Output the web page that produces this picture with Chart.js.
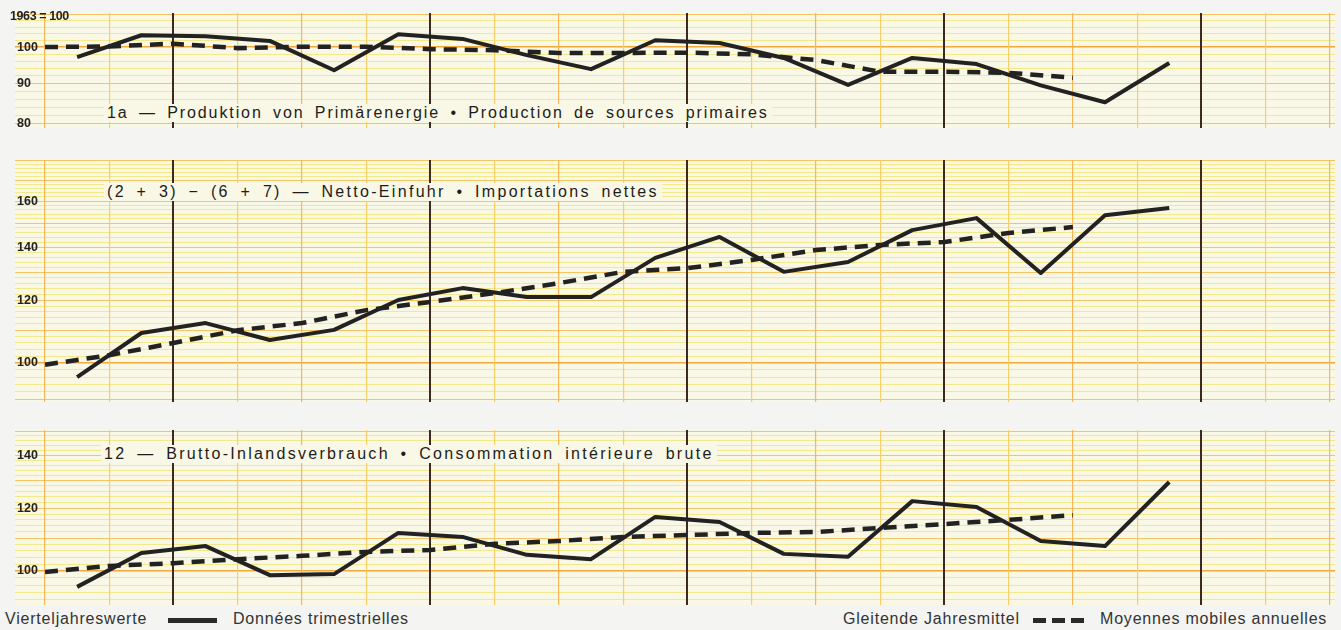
<!DOCTYPE html>
<html>
<head>
<meta charset="utf-8">
<script src="https://cdn.jsdelivr.net/npm/chart.js@4.4.0/dist/chart.umd.min.js"></script>
<style>
  body { margin: 0; width: 1341px; height: 630px; overflow: hidden; position: relative;
         background: #f4f4f2; font-family: "Liberation Sans", Arial, sans-serif; }
  .panel { position: absolute; left: 0; }
  .title { position: absolute; font-size: 16px; letter-spacing: 1.9px; word-spacing: 4px; color: #1c1c1c;
           background: #f9f7e6; white-space: nowrap; line-height: 18px; padding: 0 3px; }
  .base { position: absolute; left: 10px; top: 9px; font: bold 12.5px "Liberation Sans", Arial; letter-spacing: -0.4px;
          word-spacing: 0px; color: #222; }
  .leg { position: absolute; top: 610px; font-size: 16px; color: #333; white-space: nowrap; letter-spacing: 0.8px; }
  .solid { position: absolute; top: 618px; height: 5px; background: #2a2a2a; }
  .dash { position: absolute; top: 618px; height: 5px;
          background: repeating-linear-gradient(90deg, #2a2a2a 0 13px, transparent 13px 19px); }
</style>
</head>
<body>
<div class="panel" style="top:13px"><canvas id="c1" width="1341" height="115"></canvas></div>
<div class="panel" style="top:160px"><canvas id="c2" width="1341" height="242"></canvas></div>
<div class="panel" style="top:430px"><canvas id="c3" width="1341" height="175"></canvas></div>

<div class="base">1963 = 100</div>
<div class="title" style="left:104px;top:104px">1a — Produktion von Primärenergie • Production de sources primaires</div>
<div class="title" style="left:104px;top:183px;letter-spacing:2.3px">(2 + 3) − (6 + 7) — Netto-Einfuhr • Importations nettes</div>
<div class="title" style="left:101px;top:445px;letter-spacing:2.3px">12 — Brutto-Inlandsverbrauch • Consommation intérieure brute</div>

<div class="leg" style="left:5px">Vierteljahreswerte</div>
<div class="solid" style="left:168px;width:49px"></div>
<div class="leg" style="left:233px">Données trimestrielles</div>
<div class="leg" style="left:843px">Gleitende Jahresmittel</div>
<div class="dash" style="left:1033px;width:51px"></div>
<div class="leg" style="left:1100px">Moyennes mobiles annuelles</div>

<script>
// quarterly values (solid) and annual moving average (dashed), 1963 = 100
const p1Solid  = [97.1, 103.5, 103.2, 101.8, 93.5, 103.8, 102.4, 97.7, 93.8, 102.0, 101.2, 96.9, 89.6, 96.9, 95.2, 89.5, 85.2, 95.5];
const p1Dashed = [100, 100.2, 101, 99.7, 100.1, 100.1, 99.4, 99.1, 98.3, 98.3, 98.4, 97.9, 96.3, 93.1, 93.1, 92.8, 91.5];
const p2Solid  = [96.0, 109.1, 112.3, 106.9, 110.1, 120.1, 124.3, 121.1, 121.1, 135.7, 144.2, 130.3, 134.1, 147.1, 152.3, 129.9, 153.6, 156.8];
const p2Dashed = [99.5, 102.3, 106, 110, 112.3, 116.6, 119.4, 122.5, 126.1, 130.3, 131.7, 134.9, 138.8, 140.9, 142.1, 145.9, 148.4];
const p3Solid  = [95.5, 105.4, 107.5, 98.8, 99.1, 111.7, 110.4, 104.8, 103.5, 117.0, 115.3, 105.1, 104.2, 122.5, 120.4, 109.1, 107.5, 129.5];
const p3Dashed = [99.7, 101.5, 102.3, 103.5, 104.5, 105.7, 106.3, 108.2, 109.1, 110.4, 111.0, 111.7, 112.0, 113.3, 114.6, 116.0, 117.6];

const p1Labels = [80, 90, 100];
const p2Labels = [100, 120, 140, 160];
const p3Labels = [100, 120, 140];

const areaFill = {
  id: 'areaFill',
  beforeDraw(chart) {
    const a = chart.chartArea, ctx = chart.ctx;
    ctx.save();
    ctx.fillStyle = '#f9f7e6';
    ctx.fillRect(a.left, a.top, a.right - a.left, a.bottom - a.top);
    ctx.restore();
  }
};

function makePanel(id, solid, dashed, labels, yMin, yMax) {
  const grid = [];
  for (let v = Math.ceil(yMin / 2) * 2; v <= yMax; v += 2) grid.push(v);
  new Chart(document.getElementById(id), {
    type: 'line',
    data: {
      datasets: [
        { data: solid.map((v, i) => ({ x: i + 0.5, y: v })), borderColor: '#222', borderWidth: 4,
          pointRadius: 0, tension: 0, borderJoinStyle: 'round' },
        { data: dashed.map((v, i) => ({ x: i, y: v })), borderColor: '#222', borderWidth: 4.5,
          borderDash: [13, 8], pointRadius: 0, tension: 0 }
      ]
    },
    options: {
      responsive: false,
      animation: false,
      layout: { padding: { left: 15, right: 6, top: 0, bottom: 0 } },
      plugins: { legend: { display: false }, tooltip: { enabled: false } },
      scales: {
        x: {
          type: 'linear', min: -0.467, max: 20.08,
          ticks: { display: false, stepSize: 1, autoSkip: false },
          border: { display: false },
          afterBuildTicks: s => { s.ticks = []; for (let k = 0; k <= 20; k++) s.ticks.push({ value: k }); },
          afterFit: s => { s.height = 0; s.paddingLeft = 0; s.paddingRight = 0; },
          grid: {
            z: -1,
            drawTicks: false,
            color: c => c.tick.value % 4 === 2 ? '#3b2a22' : (c.tick.value % 2 === 0 ? '#f6b75a' : '#f4cf6a'),
            lineWidth: c => c.tick.value % 4 === 2 ? 2 : 1.2
          }
        },
        y: {
          type: 'logarithmic', min: yMin, max: yMax,
          border: { display: false },
          afterBuildTicks: s => { s.ticks = grid.map(v => ({ value: v })); },
          afterFit: s => { s.width = 0; s.paddingTop = 0; s.paddingBottom = 0; },
          ticks: {
            mirror: true, padding: 2, color: '#222', autoSkip: false,
            font: { family: '"Liberation Sans", Arial', weight: 'bold', size: 12.5 },
            callback: v => labels.includes(v) ? String(v) : ''
          },
          grid: {
            z: -2,
            drawTicks: false,
            color: c => c.tick.value === 100 ? '#f3a93a' : (c.tick.value % 10 === 0 ? '#f6c462' : '#f1e98c'),
            lineWidth: c => c.tick.value === 100 ? 1.6 : 1
          }
        }
      }
    },
    plugins: [areaFill]
  });
}

makePanel('c1', p1Solid, p1Dashed, p1Labels, 79.07, 110.4);
makePanel('c2', p2Solid, p2Dashed, p2Labels, 89.3, 180.3);
makePanel('c3', p3Solid, p3Dashed, p3Labels, 90.6, 150.6);
</script>
</body>
</html>
